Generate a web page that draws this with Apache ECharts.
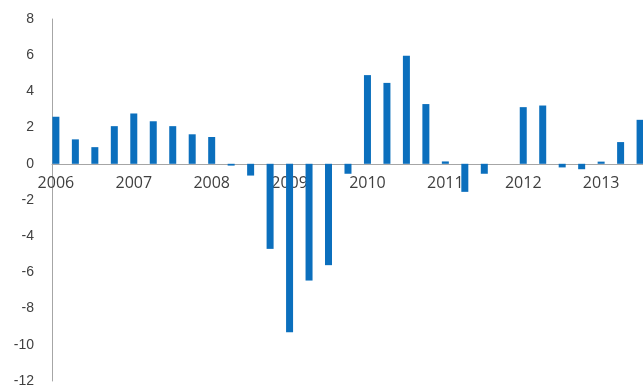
<!DOCTYPE html>
<html>
<head>
<meta charset="utf-8">
<script src="https://cdn.jsdelivr.net/npm/echarts@6/dist/echarts.min.js"></script>
<style>html,body{margin:0;padding:0;background:#fff}#c{width:643px;height:387px}</style>
</head>
<body>
<div id="c"></div>
<script>
// Quarterly values, 2006 Q1 .. 2013 Q3
const quarters = ['2006Q1','2006Q2','2006Q3','2006Q4','2007Q1','2007Q2','2007Q3','2007Q4',
  '2008Q1','2008Q2','2008Q3','2008Q4','2009Q1','2009Q2','2009Q3','2009Q4',
  '2010Q1','2010Q2','2010Q3','2010Q4','2011Q1','2011Q2','2011Q3','2011Q4',
  '2012Q1','2012Q2','2012Q3','2012Q4','2013Q1','2013Q2','2013Q3'];
const values = [2.6, 1.35, 0.92, 2.08, 2.78, 2.35, 2.08, 1.63,
  1.48, -0.1, -0.65, -4.7, -9.3, -6.45, -5.6, -0.55,
  4.9, 4.47, 5.97, 3.3, 0.13, -1.55, -0.55, 0,
  3.13, 3.22, -0.2, -0.3, 0.12, 1.2, 2.43];
const yearLabels = ['2006','2007','2008','2009','2010','2011','2012','2013'];
const yearLabelIndex = [0, 4, 8, 12, 16, 20, 24, 28];

const yMin = -12, yMax = 8;
const gridTop = 19, gridBottom = 6, H = 387;
const plotH = H - gridTop - gridBottom;
const zeroOffset = -(plotH * (0 - yMin) / (yMax - yMin));

const chart = echarts.init(document.getElementById('c'), null, {renderer: 'canvas'});
const axisGray = '#a6a6a6';
const textGray = '#404040';
const labelFmt = function (v) {
  const k = yearLabelIndex.indexOf(Math.round(v));
  return k >= 0 ? yearLabels[k] : '';
};
chart.setOption({
  animation: false,
  grid: {left: 52, right: 0, top: gridTop, bottom: gridBottom, containLabel: false, outerBoundsMode: 'none'},
  xAxis: [{
    type: 'value',
    min: -0.2,
    max: 30.15,
    z: 0,
    axisLine: {show: true, onZero: true, lineStyle: {color: axisGray, width: 1}},
    axisTick: {show: false},
    splitLine: {show: false},
    axisLabel: {show: false}
  }, {
    type: 'value',
    position: 'bottom',
    offset: zeroOffset,
    min: -0.2,
    max: 30.15,
    z: 0,
    axisLine: {show: false, onZero: false},
    axisTick: {show: false},
    splitLine: {show: false},
    axisLabel: {
      show: true,
      customValues: yearLabelIndex,
      margin: 12,
      color: textGray,
      fontFamily: 'Open Sans',
      fontSize: 16,
      formatter: labelFmt
    }
  }],
  yAxis: {
    type: 'value',
    min: yMin,
    max: yMax,
    interval: 2,
    z: 0,
    axisLine: {show: true, onZero: false, lineStyle: {color: axisGray, width: 1}},
    axisTick: {show: false},
    splitLine: {show: false},
    axisLabel: {margin: 18, color: textGray, fontFamily: 'Liberation Sans', fontSize: 14}
  },
  series: [{
    type: 'bar',
    xAxisIndex: 0,
    z: 10,
    barWidth: 7,
    itemStyle: {color: '#0b6fbd'},
    data: values.map((v, i) => [i, v])
  }]
});
</script>
</body>
</html>
